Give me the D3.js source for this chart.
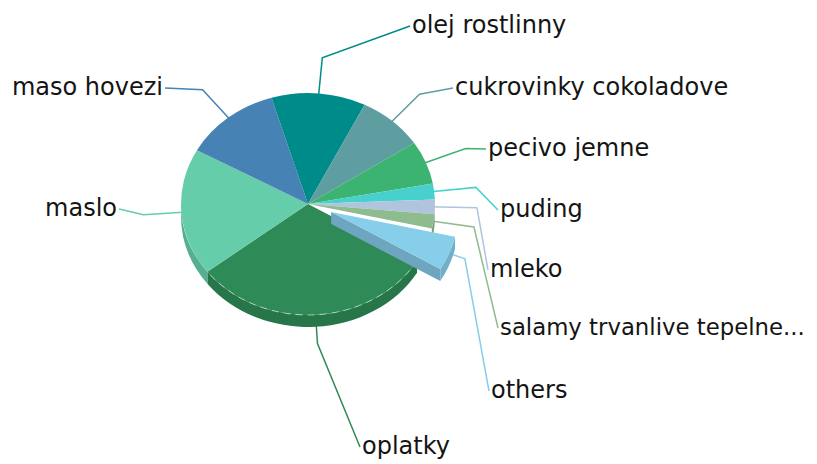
<!DOCTYPE html>
<html>
<head>
<meta charset="utf-8">
<script src="https://cdn.jsdelivr.net/npm/d3@7"></script>
<style>
  html, body { margin: 0; padding: 0; background: #ffffff; }
  svg { display: block; }
  text { font-family: "DejaVu Sans", Verdana, sans-serif; font-size: 24px; fill: #141414; }
</style>
</head>
<body>
<svg id="chart" width="817" height="464"></svg>
<script>
// Share of each product (percent), in drawing order clockwise
const categories = ["oplatky", "maslo", "maso hovezi", "olej rostlinny", "cukrovinky cokoladove",
                    "pecivo jemne", "puding", "mleko", "salamy trvanlive tepelne...", "others"];
const shares     = [31.0, 18.5, 12.3, 12.0, 8.4, 6.3, 2.3, 2.1, 2.1, 5.0];
const colors     = ["#2E8B57", "#66CDAA", "#4682B4", "#008B8B", "#5F9EA0",
                    "#3CB371", "#48D1CC", "#B0C4DE", "#8FBC8F", "#87CEEB"];
const exploded   = ["others"];

// Geometry of the tilted pie
const cx = 308, cy = 204, rx = 127, ry = 111, depth = 12;
const k = ry / rx;
const explodeDist = 25;
const startAngle = 120.8 * Math.PI / 180;
const rightLimit = 806;
const baseFont = 24;

// Label placement: text anchor point and leader elbow radius
const labelLayout = {
  "oplatky":                    { x: 362, y: 454, anchor: "start", elbow: 160 },
  "maslo":                      { x: 117, y: 216, anchor: "end",   elbow: 165 },
  "maso hovezi":                { x: 163, y: 95,  anchor: "end",   elbow: 168 },
  "olej rostlinny":             { x: 412, y: 33,  anchor: "start", elbow: 168 },
  "cukrovinky cokoladove":      { x: 455, y: 95,  anchor: "start", elbow: 168 },
  "pecivo jemne":               { x: 488, y: 156, anchor: "start", elbow: 170 },
  "puding":                     { x: 500, y: 217, anchor: "start", elbow: 169 },
  "mleko":                      { x: 490, y: 277, anchor: "start", elbow: 169 },
  "salamy trvanlive tepelne...":{ x: 500, y: 335, anchor: "start", elbow: 168 },
  "others":                     { x: 491, y: 398, anchor: "start", elbow: 144 }
};

const svg = d3.select("#chart");

const pie = d3.pie().sort(null).value(d => d.value)
  .startAngle(startAngle).endAngle(startAngle + 2 * Math.PI);

const rows = categories.map((c, i) => ({ name: c, value: shares[i], color: colors[i] }));
const arcs = pie(rows);

// Offset of a slice pulled out of the pie
function offset(a) {
  const mid = (a.startAngle + a.endAngle) / 2;
  if (!exploded.includes(a.data.name)) return [0, 0];
  return [explodeDist * Math.sin(mid), -explodeDist * k * Math.cos(mid)];
}
// Projected point on the tilted pie at angle (clockwise from 12 o'clock) and radius
function pt(a, r, o, dz) {
  return [cx + o[0] + r * Math.sin(a), cy + o[1] - r * k * Math.cos(a) + (dz || 0)];
}
function topPath(a) {
  const o = offset(a);
  const p0 = pt(a.startAngle, rx, o), p1 = pt(a.endAngle, rx, o);
  const large = (a.endAngle - a.startAngle) > Math.PI ? 1 : 0;
  return `M${cx + o[0]},${cy + o[1]}L${p0}A${rx},${ry} 0 ${large} 1 ${p1}Z`;
}
// Visible outer wall segments (front half of the ellipse)
function wallPaths(a) {
  const o = offset(a);
  const out = [];
  for (const base of [0, 2 * Math.PI]) {
    const b0 = Math.max(a.startAngle, base + Math.PI / 2);
    const b1 = Math.min(a.endAngle, base + 3 * Math.PI / 2);
    if (b1 > b0) {
      const p0 = pt(b0, rx, o), p1 = pt(b1, rx, o);
      const q0 = pt(b0, rx, o, depth), q1 = pt(b1, rx, o, depth);
      const large = (b1 - b0) > Math.PI ? 1 : 0;
      out.push(`M${p0}A${rx},${ry} 0 ${large} 1 ${p1}L${q1}A${rx},${ry} 0 ${large} 0 ${q0}Z`);
    }
  }
  return out;
}
// Radial cut face at the trailing edge of a pulled-out slice
function cutPath(a) {
  const o = offset(a);
  const c0 = [cx + o[0], cy + o[1]], c1 = [cx + o[0], cy + o[1] + depth];
  const p = pt(a.endAngle, rx, o), q = pt(a.endAngle, rx, o, depth);
  return `M${c0}L${p}L${q}L${c1}Z`;
}
// Front rim of a top face (for the highlight line)
function rimPath(a) {
  const o = offset(a);
  const b0 = Math.max(a.startAngle, Math.PI / 2), b1 = Math.min(a.endAngle, 3 * Math.PI / 2);
  if (b1 <= b0) return null;
  return `M${pt(b0, rx, o)}A${rx},${ry} 0 0 1 ${pt(b1, rx, o)}`;
}

// Leader lines (under the pie so they start at its edge)
const leaders = svg.append("g").attr("fill", "none").attr("stroke-width", 1.5);
arcs.forEach(a => {
  const mid = (a.startAngle + a.endAngle) / 2;
  const o = offset(a);
  const L = labelLayout[a.data.name];
  const p0 = pt(mid, rx - 6, o);
  const p1 = pt(mid, L.elbow, o);
  const end = L.anchor === "start" ? [L.x - 2, L.y - 7] : [L.x + 2, L.y - 7];
  leaders.append("path")
    .attr("d", `M${p0}L${p1}L${end}`)
    .attr("stroke", a.data.color);
});

const pieG = svg.append("g");
const normal = arcs.filter(a => !exploded.includes(a.data.name));
const pulled = arcs.filter(a => exploded.includes(a.data.name));

function drawSlices(list) {
  list.forEach(a => {
    const side = d3.color(a.data.color).darker(0.45);
    if (exploded.includes(a.data.name)) {
      pieG.append("path").attr("d", cutPath(a)).attr("fill", d3.color(a.data.color).darker(0.6));
    }
    wallPaths(a).forEach(d => pieG.append("path").attr("d", d).attr("fill", side));
  });
  list.forEach(a => {
    pieG.append("path").attr("d", topPath(a)).attr("fill", a.data.color);
  });
}
drawSlices(normal);

// soft dashed highlight along the front rim of the large slice
const rim = rimPath(arcs[0]);
if (rim) pieG.append("path").attr("d", rim).attr("fill", "none")
  .attr("stroke", "#ffffff").attr("stroke-opacity", 0.55)
  .attr("stroke-width", 1).attr("stroke-dasharray", "7,5");

drawSlices(pulled);

// Category labels; a label running past the right edge gets a smaller font
svg.append("g").selectAll("text").data(arcs).join("text")
  .attr("x", a => labelLayout[a.data.name].x)
  .attr("y", a => labelLayout[a.data.name].y)
  .attr("text-anchor", a => labelLayout[a.data.name].anchor)
  .text(a => a.data.name)
  .each(function (a) {
    const L = labelLayout[a.data.name];
    const w = this.getComputedTextLength();
    if (L.anchor === "start" && L.x + w > rightLimit) {
      const fs = Math.floor(baseFont * (rightLimit - L.x) / w * 10) / 10;
      d3.select(this).style("font-size", fs + "px");
    }
  });
</script>
</body>
</html>
